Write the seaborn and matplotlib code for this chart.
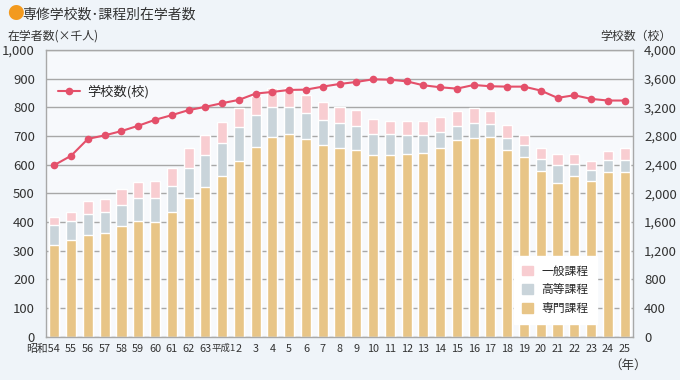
import matplotlib
matplotlib.use("Agg")
import matplotlib.pyplot as plt
import matplotlib.patches as mpatches
from matplotlib.lines import Line2D
from matplotlib.ticker import FuncFormatter
from matplotlib.transforms import ScaledTranslation
import seaborn as sns
import numpy as np
import pandas as pd

# --- data ---
years = ["昭和54", "55", "56", "57", "58", "59", "60", "61", "62", "63",
         "平成1"] + [str(i) for i in range(2, 26)]

senmon = [320, 337, 355, 362, 386, 404, 400, 436, 485, 522,
          562, 614, 661, 695, 707, 688, 667, 659, 650, 633,
          634, 636, 642, 657, 685, 692, 697, 650, 628, 579,
          537, 560, 544, 575, 575]
koto = [69, 65, 73, 72, 74, 79, 83, 89, 102, 111,
        115, 116, 112, 106, 94, 93, 90, 88, 84, 75,
        72, 67, 61, 57, 51, 53, 44, 43, 41, 40,
        61, 43, 39, 41, 41]
ippan = [27, 33, 46, 47, 54, 57, 59, 65, 70, 69,
         72, 67, 68, 65, 67, 63, 62, 54, 55, 53,
         48, 49, 49, 52, 51, 53, 46, 45, 34, 38,
         38, 33, 30, 33, 41]
schools = [2395, 2525, 2760, 2809, 2869, 2943, 3026, 3091, 3161, 3207,
           3258, 3304, 3392, 3415, 3443, 3447, 3489, 3526, 3554, 3591,
           3586, 3563, 3508, 3480, 3461, 3512, 3494, 3489, 3489, 3434,
           3332, 3369, 3318, 3295, 3295]

C_SENMON = "#E8C587"
C_KOTO = "#C9D4DA"
C_IPPAN = "#F8CDD1"
C_LINE = "#E4506A"
C_TEXT = "#333333"
FONTS = ["Noto Sans CJK JP", "DejaVu Sans"]

sns.set_theme(style="white")
plt.rcParams["font.family"] = FONTS

df = pd.DataFrame({"year": years, "senmon": senmon, "koto": koto,
                   "ippan": ippan, "schools": schools})
df["koto_top"] = df["senmon"] + df["koto"]
df["total"] = df["koto_top"] + df["ippan"]
df["pos"] = np.arange(len(df))

fig = plt.figure(figsize=(6.8, 3.8), dpi=100, facecolor="#EFF4F9")
ax = fig.add_axes([46 / 680, 1 - 336.7 / 380, 587 / 680, 286.7 / 380])
ax.set_facecolor("#F7F9FC")

for col, c in [("total", C_IPPAN), ("koto_top", C_KOTO), ("senmon", C_SENMON)]:
    sns.barplot(data=df, x="year", y=col, color=c, width=0.6,
                saturation=1, ax=ax, order=years)

ax.set_xlim(-0.5, len(years) - 0.5)
ax.set_ylim(0, 1000)
ax.set_yticks(np.arange(0, 1001, 100))
ax.yaxis.set_major_formatter(FuncFormatter(lambda v, p: f"{int(v):,}"))
ax.grid(axis="y", color="#A8A8A8", linewidth=1)
ax.set_axisbelow(True)
ax.set_xlabel("")
ax.set_ylabel("")
for s in ax.spines.values():
    s.set_color("#A8A8A8")
    s.set_linewidth(1)
ax.tick_params(axis="y", length=0, pad=8, labelsize=9.5, labelcolor=C_TEXT)
ax.tick_params(axis="x", length=0, pad=5, labelsize=7.8, labelcolor=C_TEXT)

# era-prefixed labels: shift so the number sits under its bar
labs = ax.get_xticklabels()
labs[0].set_ha("right")
labs[0].set_transform(labs[0].get_transform() + ScaledTranslation(6 / 100, 0, fig.dpi_scale_trans))
labs[10].set_transform(labs[10].get_transform() + ScaledTranslation(1.2 / 100, 0, fig.dpi_scale_trans))
labs[10].set_fontsize(6.8)

ax2 = ax.twinx()
sns.lineplot(data=df, x="pos", y="schools", color=C_LINE, marker="o",
             markersize=5.5, markeredgewidth=0, linewidth=1.5, ax=ax2)
ax2.set_ylim(0, 4000)
ax2.set_yticks(np.arange(0, 4001, 400))
ax2.yaxis.set_major_formatter(FuncFormatter(lambda v, p: f"{int(v):,}"))
ax2.set_xlim(-0.5, len(years) - 0.5)
ax2.set_xlabel("")
ax2.set_ylabel("")
ax2.grid(False)
for s in ax2.spines.values():
    s.set_visible(False)
ax2.tick_params(axis="y", length=0, pad=8, labelsize=9.5, labelcolor=C_TEXT)

# legends
handles = [mpatches.Patch(color=C_IPPAN, label="一般課程"),
           mpatches.Patch(color=C_KOTO, label="高等課程"),
           mpatches.Patch(color=C_SENMON, label="専門課程")]
leg = ax2.legend(handles=handles, loc="lower right", bbox_to_anchor=(0.948, 0.025),
                 frameon=True, fancybox=False, fontsize=8.5, handlelength=0.9,
                 handleheight=0.9, handletextpad=0.7, labelspacing=0.5,
                 borderpad=0.7)
leg.get_frame().set_facecolor("white")
leg.get_frame().set_edgecolor("white")
leg.get_frame().set_alpha(1)
ax2.add_artist(leg)

line_h = [Line2D([0], [0], color=C_LINE, marker="o", markersize=5.5,
                 markeredgewidth=0, linewidth=1.5, label="学校数(校)")]
ax2.legend(handles=line_h, loc="upper left", bbox_to_anchor=(0.0, 0.92),
           frameon=False, fontsize=9.5, handlelength=1.7, handletextpad=0.5)

# texts
fig.text(15 / 680, 1 - 15 / 380, "●", color="#F39A1E", fontsize=12,
         ha="center", va="center")
fig.text(22 / 680, 1 - 15 / 380, "専修学校数･課程別在学者数", color=C_TEXT,
         fontsize=10, ha="left", va="center")
fig.text(8 / 680, 1 - 36 / 380, "在学者数(×千人)", color=C_TEXT,
         fontsize=8.6, ha="left", va="center")
fig.text(672 / 680, 1 - 36 / 380, "学校数（校）", color=C_TEXT,
         fontsize=8.6, ha="right", va="center")
fig.text(628 / 680, 1 - 365 / 380, "（年）", color=C_TEXT,
         fontsize=9, ha="center", va="center")

fig.savefig("out.png", dpi=100, facecolor=fig.get_facecolor())
